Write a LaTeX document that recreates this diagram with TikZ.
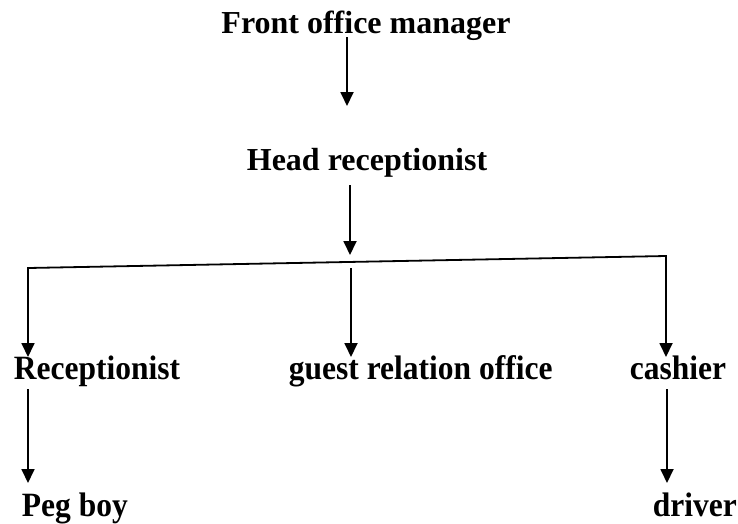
\documentclass[tikz,border=0pt]{standalone}
\usepackage{fontspec}
\setmainfont{Liberation Serif}
\usetikzlibrary{arrows.meta}

\begin{document}
\begin{tikzpicture}[x=1pt, y=-1pt, line width=1.8pt, >={Triangle[length=14pt, width=13pt]}, every node/.style={font=\bfseries\fontsize{32}{38}\selectfont, inner sep=0pt}, low/.style={font=\bfseries\fontsize{31.5}{36}\selectfont, yscale=1.08, transform shape}]
  \useasboundingbox (0,0) rectangle (738,523);
  \coordinate (0) at (347,37);
  \coordinate (1) at (347,106);
  \coordinate (2) at (350,185);
  \coordinate (3) at (350,255);
  \coordinate (4) at (28,268);
  \coordinate (5) at (666,256);
  \coordinate (6) at (28,357);
  \coordinate (7) at (351,268);
  \coordinate (8) at (351,357);
  \coordinate (9) at (666,357);
  \coordinate (10) at (28,389);
  \coordinate (11) at (28,483);
  \coordinate (12) at (667,389);
  \coordinate (13) at (667,483);
  \draw[->] (0) -- (1);
  \draw[->] (2) -- (3);
  \draw[<->] (6) -- (4) -- (5) -- (9);
  \draw[->] (7) -- (8);
  \draw[->] (10) -- (11);
  \draw[->] (12) -- (13);
  \draw[anchor=base] (366,33) node (FOM) {Front office manager};
  \draw[anchor=base] (367,170) node (HR) {Head receptionist};
  \draw[anchor=base west] (13,379) node[low] (REC) {Receptionist};
  \draw[anchor=base west] (288,379) node[low] (GRO) {guest relation office};
  \draw[anchor=base west] (629,379) node[low] (CSH) {cashier};
  \draw[anchor=base west] (21,516) node[low] (PEG) {Peg boy};
  \draw[anchor=base west] (652,516) node[low] (DRV) {driver};
\end{tikzpicture}
\end{document}
